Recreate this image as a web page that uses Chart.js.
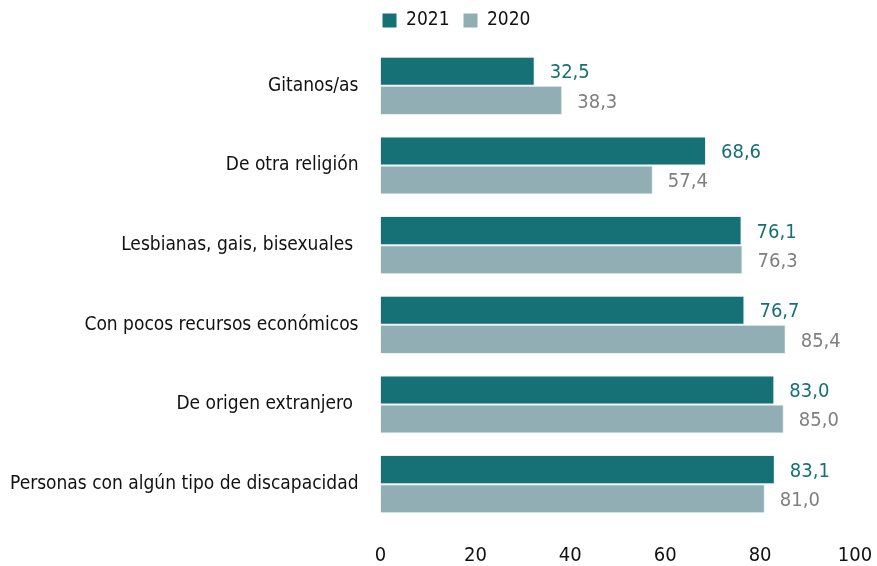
<!DOCTYPE html>
<html>
<head>
<meta charset="utf-8">
<script src="https://cdn.jsdelivr.net/npm/chart.js@4.4.0/dist/chart.umd.min.js"></script>
<style>
  html, body { margin: 0; padding: 0; background: #fff; }
  #wrap { width: 877px; height: 566px; }
</style>
</head>
<body>
<div id="wrap"><canvas id="chart" width="877" height="566"></canvas></div>
<script>
// Data
const categories = [
  "Gitanos/as",
  "De otra religión",
  "Lesbianas, gais, bisexuales ",
  "Con pocos recursos económicos",
  "De origen extranjero ",
  "Personas con algún tipo de discapacidad"
];
const values2021 = [32.5, 68.6, 76.1, 76.7, 83.0, 83.1];
const values2020 = [38.3, 57.4, 76.3, 85.4, 85.0, 81.0];
const xTicks = [0, 20, 40, 60, 80, 100];

const FONT = "'DejaVu Sans Condensed', 'Liberation Sans Narrow', sans-serif";
const TEAL = "#167177";
const GREY = "#91aeb4";

// Value labels next to each bar
const valueLabels = {
  id: "valueLabels",
  afterDatasetsDraw(chart) {
    const ctx = chart.ctx;
    ctx.save();
    ctx.font = "20px " + FONT;
    ctx.textBaseline = "middle";
    ctx.textAlign = "left";
    chart.data.datasets.forEach((ds, di) => {
      ctx.fillStyle = ds.labelColor;
      chart.getDatasetMeta(di).data.forEach((bar, i) => {
        const txt = ds.data[i].toFixed(1).replace(".", ",");
        ctx.fillText(txt, bar.x + 15, bar.y + 2);
      });
    });
    ctx.restore();
  }
};

// nudge legend to where the original has it
const legendShift = {
  id: "legendShift",
  afterUpdate(chart) {
    if (chart.legend) {
      chart.legend.left += 35;
      chart.legend.right += 35;
      chart.legend.top -= 6;
      chart.legend.bottom -= 6;
    }
  }
};

new Chart(document.getElementById("chart").getContext("2d"), {
  type: "bar",
  data: {
    labels: categories,
    datasets: [
      {
        label: "2021",
        data: values2021,
        backgroundColor: TEAL,
        borderColor: "#e8f0f1",
        borderWidth: 1,
        labelColor: TEAL
      },
      {
        label: "2020",
        data: values2020,
        backgroundColor: GREY,
        borderColor: "#e8f0f1",
        borderWidth: 1,
        labelColor: "#808080"
      }
    ]
  },
  options: {
    indexAxis: "y",
    responsive: false,
    animation: false,
    devicePixelRatio: 1,
    layout: { padding: { left: -12, right: 22, top: 3, bottom: -22 } },
    datasets: {
      bar: { categoryPercentage: 0.73, barPercentage: 1.0 }
    },
    scales: {
      x: {
        min: 0,
        max: 100,
        afterBuildTicks(axis) {
          axis.ticks = xTicks.map(v => ({ value: v }));
        },
        afterFit(axis) {
          axis.paddingRight = 0;
        },
        grid: { display: false, drawTicks: false },
        border: { display: false },
        ticks: {
          color: "#111",
          padding: 20,
          font: { family: FONT, size: 20 }
        }
      },
      y: {
        grid: { display: false, drawTicks: false },
        border: { display: false },
        ticks: {
          color: "#111",
          padding: 22,
          font: { family: FONT, size: 19 }
        }
      }
    },
    plugins: {
      legend: {
        position: "top",
        labels: {
          color: "#111",
          boxWidth: 14,
          boxHeight: 14,
          padding: 14,
          font: { family: FONT, size: 19 },
          generateLabels(chart) {
            return chart.data.datasets.map((ds, i) => ({
              text: ds.label,
              fillStyle: ds.backgroundColor,
              strokeStyle: ds.backgroundColor,
              lineWidth: 0,
              fontColor: "#111",
              datasetIndex: i
            }));
          }
        }
      },
      tooltip: { enabled: false }
    }
  },
  plugins: [valueLabels, legendShift]
});
</script>
</body>
</html>
